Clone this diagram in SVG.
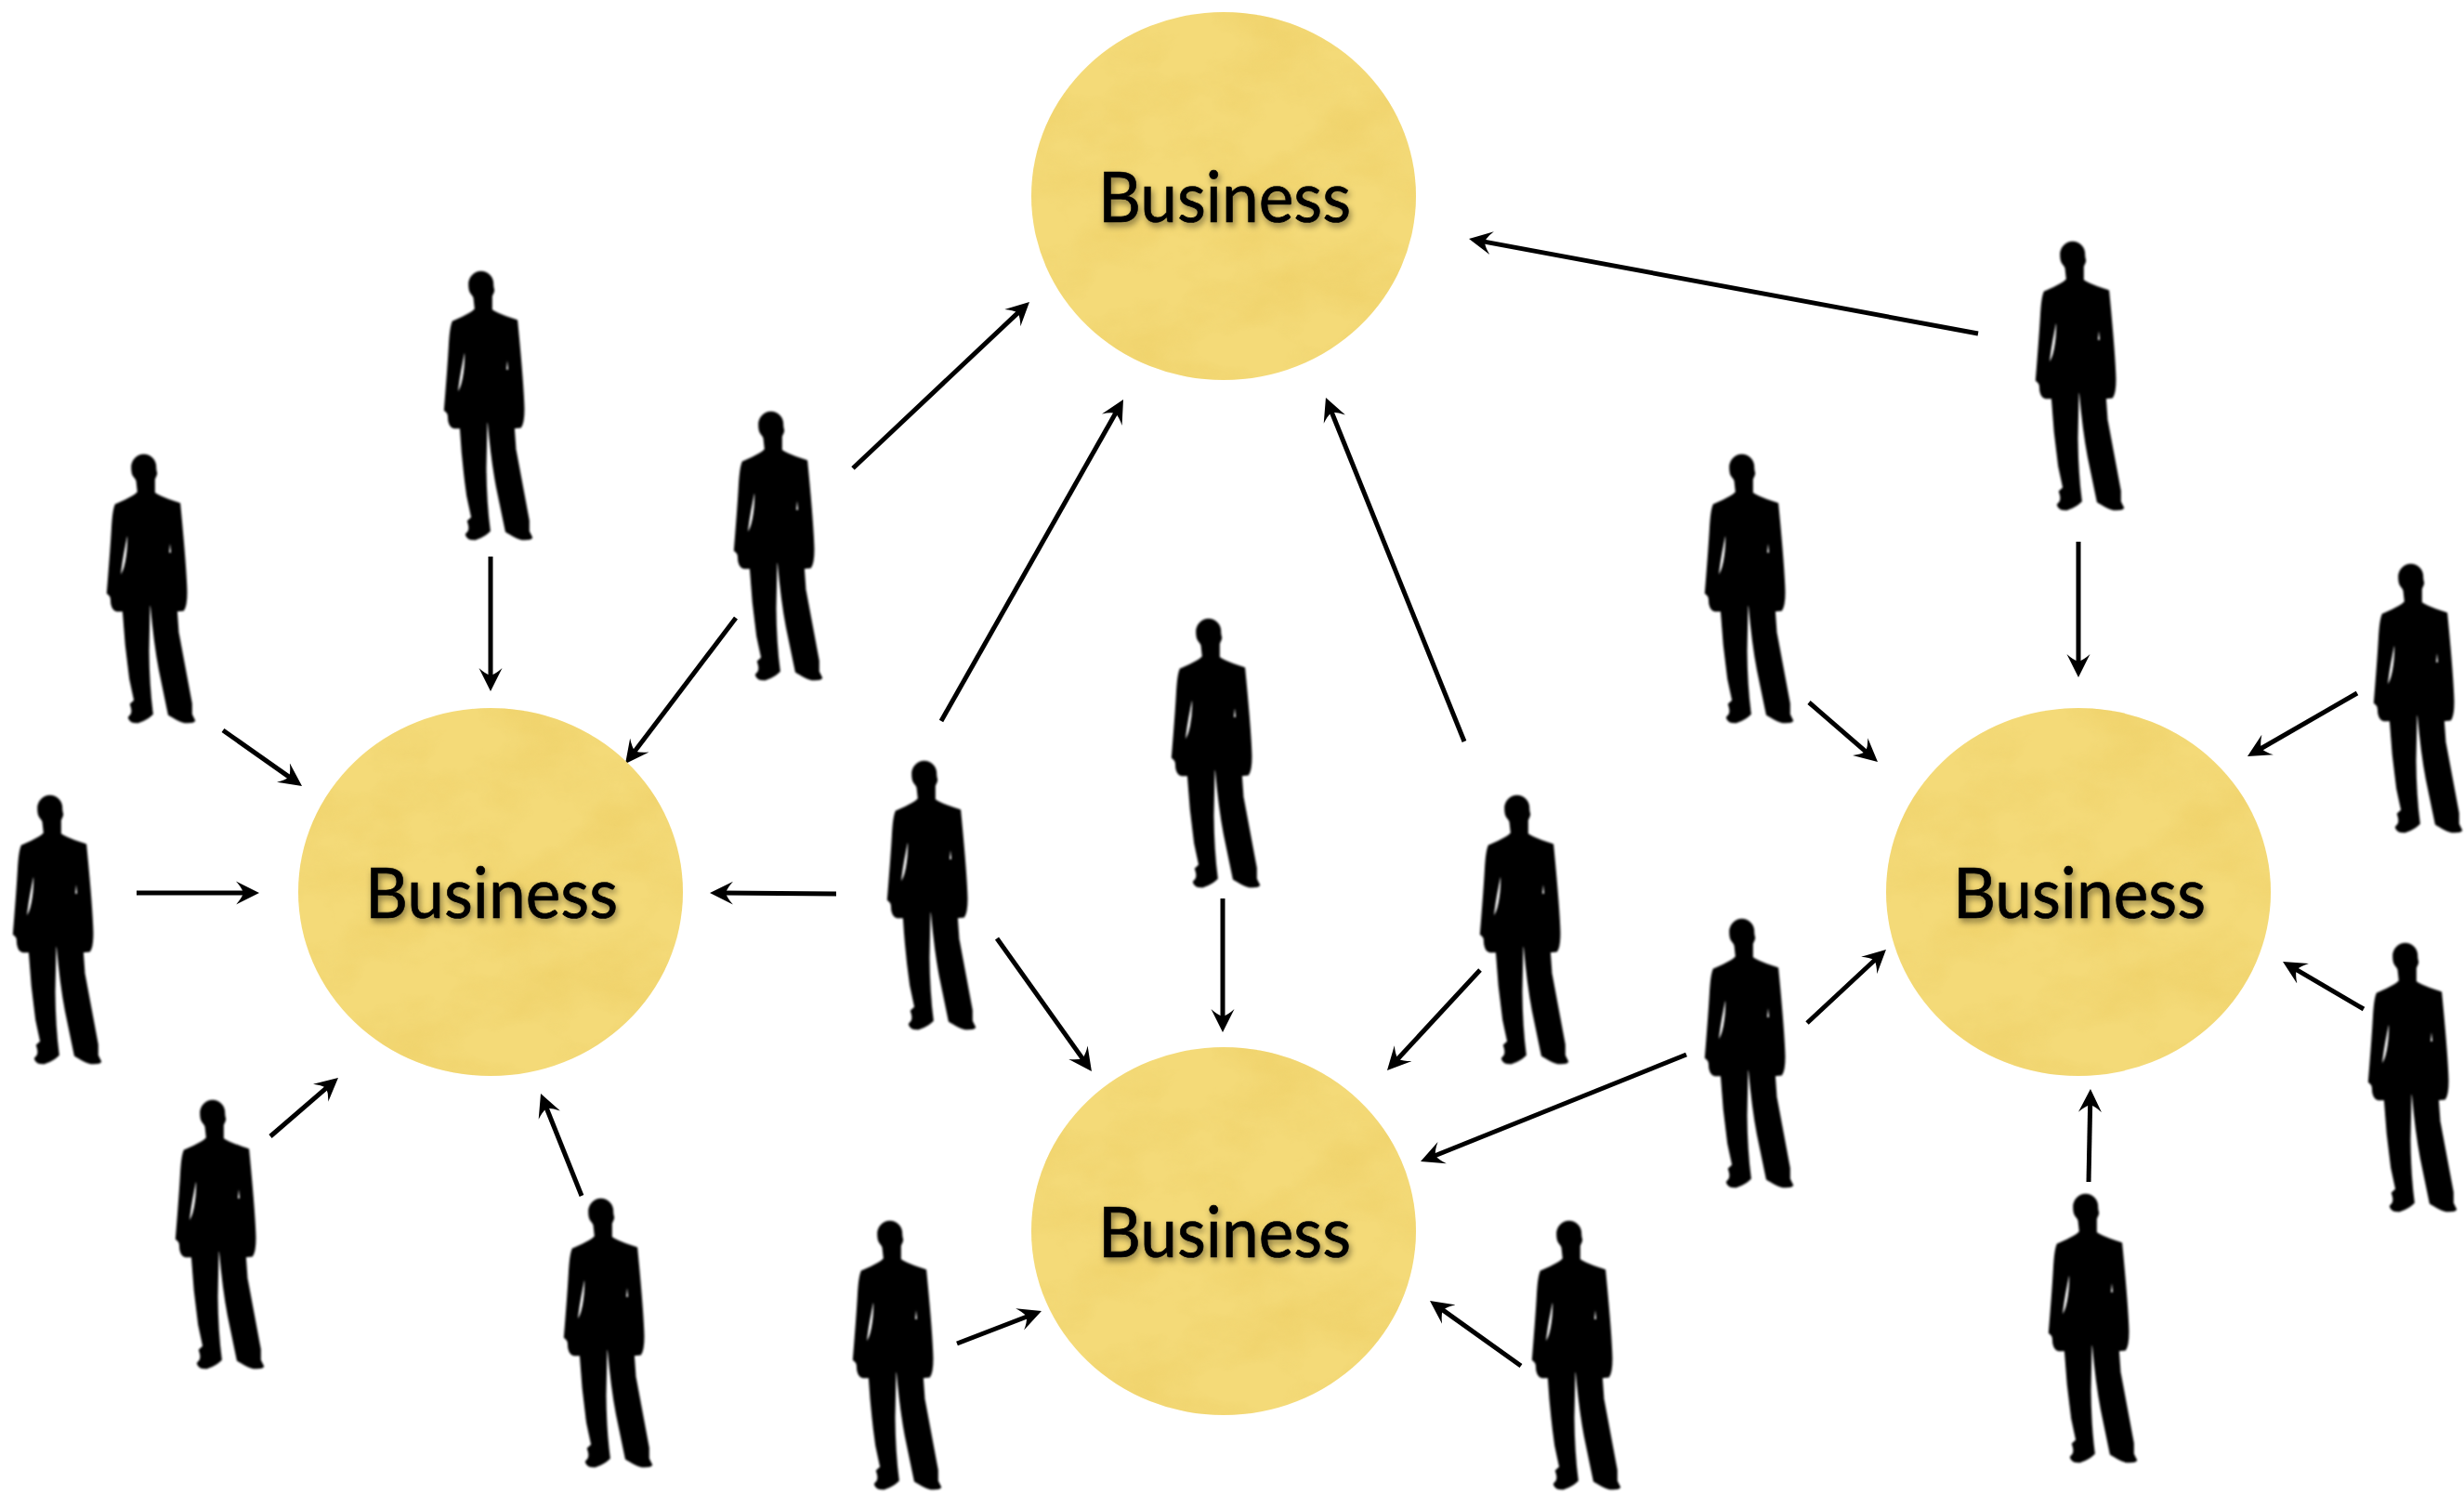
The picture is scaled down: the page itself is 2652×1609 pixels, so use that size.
<svg xmlns="http://www.w3.org/2000/svg" width="2652" height="1609" viewBox="0 0 2652 1609">
<style>
.conn line{stroke:#000;stroke-width:5;fill:none;marker-end:url(#ah)}
.disc{fill:#f4da78;filter:url(#paper)}
.lbl{font-family:"Lato","Open Sans",sans-serif;font-size:76px;fill:#000;stroke:#000;stroke-width:.7;text-anchor:middle;filter:url(#ts)}
</style>
<defs>
<marker id="ah" markerUnits="userSpaceOnUse" markerWidth="26" markerHeight="26" refX="11" refY="13" orient="auto" viewBox="0 0 26 26"><path d="M25 13L0 .5Q6 7 8 13Q6 19 0 25.500Z" fill="#000"/></marker>
<filter id="ts" x="-10%" y="-20%" width="120%" height="150%"><feDropShadow dx="2" dy="4" stdDeviation="3.5" flood-color="#000" flood-opacity=".45"/></filter>
<filter id="paper" x="0" y="0" width="100%" height="100%" color-interpolation-filters="sRGB">
<feTurbulence type="fractalNoise" baseFrequency="0.011 0.016" numOctaves="5" seed="11" result="n"/>
<feColorMatrix in="n" type="matrix" values="0 0 0 0 .92  0 0 0 0 .79  0 0 0 0 .36  .9 0 0 0 -.35" result="d"/>
<feComposite in="d" in2="SourceAlpha" operator="in" result="dc"/>
<feMerge><feMergeNode in="SourceGraphic"/><feMergeNode in="dc"/></feMerge>
</filter>
<filter id="soft" x="-5%" y="-5%" width="110%" height="110%"><feGaussianBlur stdDeviation="2.6"/></filter>
<symbol id="man" overflow="visible">
<path filter="url(#soft)" transform="scale(.3333) translate(-113 -65)" fill-rule="evenodd" fill="#000" stroke="#000" stroke-width="5" d="M232 67C212 67 195 84 194 105C194 118 196 130 200 135C204 140 208 145 210 150L214 187C202 202 172 214 142 227C134 242 132 270 130 310C126 380 120 450 115 513C120 518 126 520 127 530C127 550 132 568 145 570L166 570C170 640 178 720 188 790L203 860L190 872C194 885 198 895 192 905L184 915C187 928 195 931 215 930C235 923 250 913 260 903C253 850 248 800 247 700L250 552L256 552C262 620 268 680 283 760L313 905C330 915 345 928 365 930C380 931 393 930 396 925L386 905L386 870C373 800 358 720 343 640L338 570L360 568C366 560 370 540 370 510C368 430 360 350 348 224C320 214 290 207 266 190L266 145C270 135 276 128 272 122C270 115 270 110 270 105C270 84 253 67 232 67ZM177 325C168 370 158 415 155 460C172 445 182 390 182 330ZM317 330L311 385L323 385Z"/>
</symbol>
</defs>
<rect width="2652" height="1609" fill="#fff"/>
<g id="connectors" class="conn">
<line x1="528" y1="599" x2="528" y2="730"/>
<line x1="240" y1="786" x2="313.600" y2="837.900"/>
<line x1="147" y1="961" x2="265" y2="961"/>
<line x1="291" y1="1223" x2="353.400" y2="1169.100"/>
<line x1="626" y1="1287" x2="587.200" y2="1190"/>
<line x1="792" y1="665" x2="681.500" y2="810.800"/>
<line x1="918" y1="504" x2="1097.800" y2="334.600"/>
<line x1="1013" y1="776" x2="1202.100" y2="442.200"/>
<line x1="900" y1="962" x2="778" y2="961"/>
<line x1="1073" y1="1010" x2="1166.800" y2="1141.600"/>
<line x1="1316" y1="967" x2="1316" y2="1097"/>
<line x1="1576" y1="798" x2="1432.200" y2="441"/>
<line x1="1593" y1="1044" x2="1502.500" y2="1141.700"/>
<line x1="1030" y1="1446" x2="1107.900" y2="1416"/>
<line x1="1637" y1="1470" x2="1550.400" y2="1408.100"/>
<line x1="1815" y1="1135" x2="1542" y2="1244.800"/>
<line x1="1945" y1="1101" x2="2019.700" y2="1031.500"/>
<line x1="1947" y1="756" x2="2010.400" y2="810.800"/>
<line x1="2237" y1="583" x2="2237" y2="715"/>
<line x1="2129" y1="359" x2="1594.800" y2="259.600"/>
<line x1="2537" y1="746" x2="2431.100" y2="807"/>
<line x1="2544" y1="1086" x2="2469.100" y2="1042.100"/>
<line x1="2248" y1="1272" x2="2249.700" y2="1186"/>
</g>
<g id="business-top" transform="translate(1317 211)"><ellipse class="disc" rx="207" ry="198"/><text class="lbl" x="1" y="28" textLength="272" lengthAdjust="spacingAndGlyphs">Business</text></g>
<g id="business-left" transform="translate(528 960)"><ellipse class="disc" rx="207" ry="198"/><text class="lbl" x="1" y="28" textLength="272" lengthAdjust="spacingAndGlyphs">Business</text></g>
<g id="business-bottom" transform="translate(1317 1325)"><ellipse class="disc" rx="207" ry="198"/><text class="lbl" x="1" y="28" textLength="272" lengthAdjust="spacingAndGlyphs">Business</text></g>
<g id="business-right" transform="translate(2237 960)"><ellipse class="disc" rx="207" ry="198"/><text class="lbl" x="1" y="28" textLength="272" lengthAdjust="spacingAndGlyphs">Business</text></g>
<g id="person-1"><use href="#man" x="478" y="292"/></g>
<g id="person-2"><use href="#man" x="115" y="489"/></g>
<g id="person-3"><use href="#man" x="14" y="856"/></g>
<g id="person-4"><use href="#man" x="189" y="1184"/></g>
<g id="person-5"><use href="#man" x="607" y="1290"/></g>
<g id="person-6"><use href="#man" x="790" y="443"/></g>
<g id="person-7"><use href="#man" x="955" y="819"/></g>
<g id="person-8"><use href="#man" x="1261" y="666"/></g>
<g id="person-9"><use href="#man" x="1593" y="856"/></g>
<g id="person-10"><use href="#man" x="918" y="1314"/></g>
<g id="person-11"><use href="#man" x="1649" y="1314"/></g>
<g id="person-12"><use href="#man" x="1835" y="489"/></g>
<g id="person-13"><use href="#man" x="1835" y="989"/></g>
<g id="person-14"><use href="#man" x="2191" y="260"/></g>
<g id="person-15"><use href="#man" x="2555" y="607"/></g>
<g id="person-16"><use href="#man" x="2549" y="1015"/></g>
<g id="person-17"><use href="#man" x="2205" y="1285"/></g>
</svg>
